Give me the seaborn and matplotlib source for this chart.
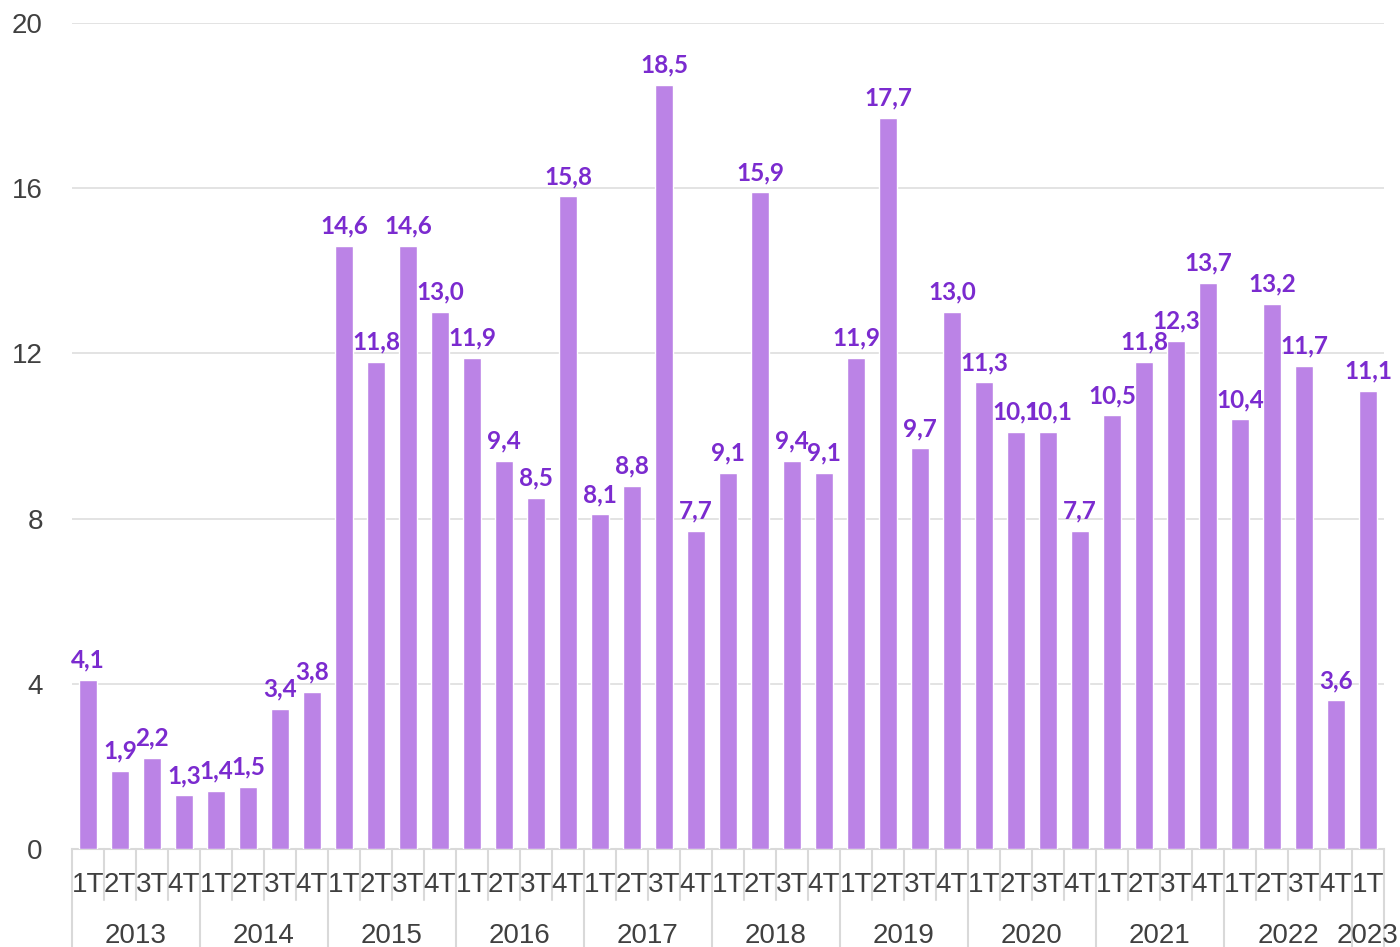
import matplotlib
matplotlib.use("Agg")
import matplotlib.pyplot as plt
import matplotlib.transforms as mtransforms
import seaborn as sns
import pandas as pd

years = ["2013", "2014", "2015", "2016", "2017", "2018", "2019", "2020", "2021", "2022", "2023"]
quarters = ["1T", "2T", "3T", "4T"]
values = [
    4.1, 1.9, 2.2, 1.3,
    1.4, 1.5, 3.4, 3.8,
    14.6, 11.8, 14.6, 13.0,
    11.9, 9.4, 8.5, 15.8,
    8.1, 8.8, 18.5, 7.7,
    9.1, 15.9, 9.4, 9.1,
    11.9, 17.7, 9.7, 13.0,
    11.3, 10.1, 10.1, 7.7,
    10.5, 11.8, 12.3, 13.7,
    10.4, 13.2, 11.7, 3.6,
    11.1,
]
yticks = [0, 4, 8, 12, 16, 20]

rows = []
for i, v in enumerate(values):
    rows.append({"pos": str(i), "year": years[i // 4], "q": quarters[i % 4], "value": v})
df = pd.DataFrame(rows)

sns.set_theme(style="white")
plt.rcParams["font.family"] = ["Liberation Sans", "DejaVu Sans"]

fig = plt.figure(figsize=(14, 9.47), dpi=100)
ax = fig.add_axes([72 / 1400, 98 / 947, (1384 - 72) / 1400, (849 - 23) / 947])

bar_color = "#BB83E6"
lab_color = "#7B2BCF"
sns.barplot(data=df, x="pos", y="value", color=bar_color, width=0.56,
            saturation=1, ax=ax, zorder=3)

ax.set_ylim(0, 20)
ax.set_xlim(-0.5, len(values) - 0.5)
ax.set_yticks(yticks)
ax.set_yticklabels([str(t) for t in yticks], fontsize=20, color="#404040")
ax.tick_params(axis="y", length=0, pad=21)
ax.set_xticks([])
ax.set_xlabel("")
ax.set_ylabel("")
ax.yaxis.grid(True, color="#E0E0E0", linewidth=1.3, zorder=0)
ax.set_axisbelow(True)
for s in ["top", "right", "left"]:
    ax.spines[s].set_visible(False)
ax.spines["bottom"].set_color("#D9D9D9")
ax.spines["bottom"].set_linewidth(1.5)

for i, v in enumerate(values):
    ax.annotate(f"{v:.1f}".replace(".", ","), (i, v), xytext=(0, 6),
                textcoords="offset points", ha="center", va="bottom",
                fontsize=17.5, fontweight="bold", color=lab_color,
                family=["Lato", "DejaVu Sans"])

trans = mtransforms.blended_transform_factory(ax.transData, fig.transFigure)
n = len(values)
for b in range(n + 1):
    x = b - 0.5
    if b % 4 == 0 or b == n:
        ax.plot([x, x], [98 / 947, 0], transform=trans, color="#D9D9D9",
                lw=1.5, clip_on=False)
    else:
        ax.plot([x, x], [98 / 947, 47 / 947], transform=trans, color="#D9D9D9",
                lw=1.5, clip_on=False)

for i in range(n):
    ax.text(i, 62 / 947, quarters[i % 4], transform=trans, ha="center",
            va="center", fontsize=20, color="#404040")

for k, y in enumerate(years):
    start = k * 4
    end = min(start + 3, n - 1)
    ax.text((start + end) / 2, 11 / 947, y, transform=trans, ha="center",
            va="center", fontsize=20, color="#404040")

fig.savefig("out.png", dpi=100)
